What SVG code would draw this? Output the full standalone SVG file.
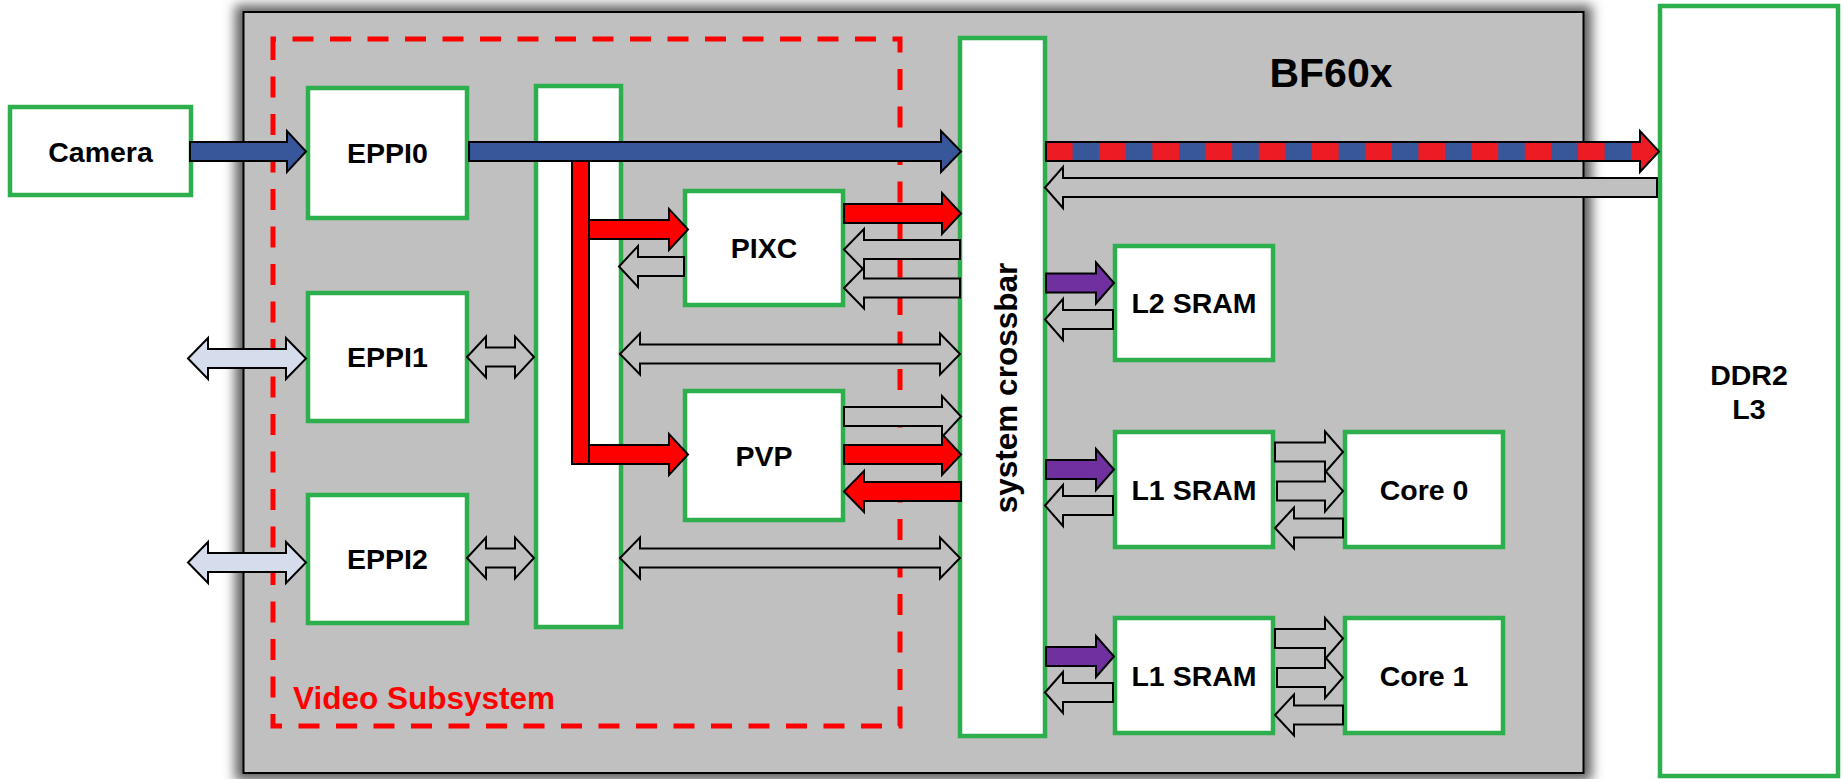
<svg xmlns="http://www.w3.org/2000/svg" width="1845" height="779" viewBox="0 0 1845 779">
<defs>
<style>
.node{fill:#FFFFFF;stroke:#2DAF4D;stroke-width:4.5}
.lbl{font-family:"Liberation Sans",Arial,sans-serif;font-weight:bold;font-size:28.5px;fill:#000;text-anchor:middle}
.ar{stroke:#000;stroke-width:2;stroke-linejoin:miter}
.blue{fill:#38569A}
.red{fill:#FF0000}
.gry{fill:#C0C0C0}
.pur{fill:#7030A0}
.lb{fill:#D5DCEC}
</style>
<filter id="sh" x="-10%" y="-10%" width="120%" height="120%" filterUnits="objectBoundingBox"><feGaussianBlur in="SourceGraphic" stdDeviation="6"/></filter>
<pattern id="stripe" patternUnits="userSpaceOnUse" x="1046" y="0" width="53.2" height="20"><rect width="26.6" height="20" fill="#EC1C24"/><rect x="26.6" width="26.6" height="20" fill="#38569A"/></pattern>
</defs>
<rect width="1845" height="779" fill="#FFFFFF"/>
<g id="bf60x">
<g filter="url(#sh)"><rect x="235" y="5" width="1357" height="776" fill="#606060"/></g>
<rect x="243.5" y="12" width="1340" height="761" fill="#C0C0C0" stroke="#000" stroke-width="2"/>
<text x="1331" y="87" class="lbl" style="font-size:41px">BF60x</text>
</g>
<g id="video-subsystem">
<path d="M273,39 V726 H900 V39 Z" fill="none" stroke="#FF0000" stroke-width="5" stroke-dasharray="21 16.5"/>
<text x="293" y="709" class="lbl" style="font-size:31.5px;fill:#FF0000;text-anchor:start">Video Subsystem</text>
</g>
<g id="camera"><rect class="node" x="10" y="107" width="181" height="88"/><text class="lbl" x="100.5" y="162">Camera</text></g>
<g id="eppi0"><rect class="node" x="308" y="88" width="159" height="130"/><text class="lbl" x="387.5" y="163">EPPI0</text></g>
<g id="eppi1"><rect class="node" x="308" y="293" width="159" height="128"/><text class="lbl" x="387.5" y="367">EPPI1</text></g>
<g id="eppi2"><rect class="node" x="308" y="495" width="159" height="128"/><text class="lbl" x="387.5" y="569">EPPI2</text></g>
<g id="bus"><rect class="node" x="536" y="86" width="85" height="541"/></g>
<g id="pixc"><rect class="node" x="685" y="191" width="158" height="114"/><text class="lbl" x="764" y="258">PIXC</text></g>
<g id="pvp"><rect class="node" x="685" y="391" width="158" height="129"/><text class="lbl" x="764" y="465.5">PVP</text></g>
<g id="crossbar"><rect class="node" x="960" y="38" width="85" height="698"/><text class="lbl" style="font-size:31.5px" transform="translate(1016.5,388) rotate(-90)" x="0" y="0">system crossbar</text></g>
<g id="l2sram"><rect class="node" x="1115" y="246" width="158" height="114"/><text class="lbl" x="1194" y="313">L2 SRAM</text></g>
<g id="l1sram0"><rect class="node" x="1115" y="432" width="158" height="115"/><text class="lbl" x="1194" y="499.5">L1 SRAM</text></g>
<g id="core0"><rect class="node" x="1345" y="432" width="158" height="115"/><text class="lbl" x="1424" y="499.5">Core 0</text></g>
<g id="l1sram1"><rect class="node" x="1115" y="618" width="158" height="115"/><text class="lbl" x="1194" y="685.5">L1 SRAM</text></g>
<g id="core1"><rect class="node" x="1345" y="618" width="158" height="115"/><text class="lbl" x="1424" y="685.5">Core 1</text></g>
<g id="ddr2"><rect class="node" x="1660" y="6" width="178" height="770"/><text class="lbl" x="1749" y="385">DDR2</text><text class="lbl" x="1749" y="419">L3</text></g>
<g id="connectors">
<polygon class="ar blue" points="190,142 287,142 287,131 306,151.5 287,172 287,161 190,161"/>
<rect class="ar red" x="572" y="159" width="17" height="305"/>
<polygon class="ar blue" points="469,142 941,142 941,131 961,151.5 941,172 941,161 469,161"/>
<polygon class="ar" fill="url(#stripe)" points="1046,142 1640,142 1640,131 1659,151.5 1640,172 1640,161 1046,161"/>
<polygon class="ar gry" points="1657,178 1063,178 1063,167 1045,187.5 1063,208 1063,197 1657,197"/>
<polygon class="ar red" points="589,220 669,220 669,209 688,229.5 669,250 669,239 589,239"/>
<polygon class="ar red" points="589,445 669,445 669,434 688,454.5 669,475 669,464 589,464"/>
<polygon class="ar gry" points="684,257 638,257 638,246 619,266.5 638,287 638,276 684,276"/>
<polygon class="ar red" points="844,204 942,204 942,193 961,213.5 942,234 942,223 844,223"/>
<polygon class="ar gry" points="960,240 864,240 864,229 844,249.5 864,270 864,259 960,259"/>
<polygon class="ar gry" points="960,278.5 864,278.5 864,267.5 844,288 864,308.5 864,297.5 960,297.5"/>
<polygon class="ar gry" points="620,354 640,333.5 640,344.5 940,344.5 940,333.5 960,354 940,374.5 940,363.5 640,363.5 640,374.5"/>
<polygon class="ar gry" points="620,558 640,537.5 640,548.5 940,548.5 940,537.5 960,558 940,578.5 940,567.5 640,567.5 640,578.5"/>
<polygon class="ar gry" points="467,357 486,336.5 486,347.5 515,347.5 515,336.5 534,357 515,377.5 515,366.5 486,366.5 486,377.5"/>
<polygon class="ar gry" points="467,558 486,537.5 486,548.5 515,548.5 515,537.5 534,558 515,578.5 515,567.5 486,567.5 486,578.5"/>
<polygon class="ar lb" points="188,358.5 208,338 208,349 286,349 286,338 306,358.5 286,379 286,368 208,368 208,379"/>
<polygon class="ar lb" points="188,562.5 208,542 208,553 286,553 286,542 306,562.5 286,583 286,572 208,572 208,583"/>
<polygon class="ar gry" points="844,407 942,407 942,396 961,416.5 942,437 942,426 844,426"/>
<polygon class="ar red" points="844,445 942,445 942,434 961,454.5 942,475 942,464 844,464"/>
<polygon class="ar red" points="961,482 864,482 864,471 844,491.5 864,512 864,501 961,501"/>
<polygon class="ar pur" points="1046,273.5 1096,273.5 1096,262.5 1114,283 1096,303.5 1096,292.5 1046,292.5"/>
<polygon class="ar pur" points="1046,460 1096,460 1096,449 1114,469.5 1096,490 1096,479 1046,479"/>
<polygon class="ar pur" points="1046,647 1096,647 1096,636 1114,656.5 1096,677 1096,666 1046,666"/>
<polygon class="ar gry" points="1113,310 1063,310 1063,299 1045,319.5 1063,340 1063,329 1113,329"/>
<polygon class="ar gry" points="1113,496 1063,496 1063,485 1045,505.5 1063,526 1063,515 1113,515"/>
<polygon class="ar gry" points="1113,683 1063,683 1063,672 1045,692.5 1063,713 1063,702 1113,702"/>
<polygon class="ar gry" points="1275,442.5 1325,442.5 1325,431.5 1343,452 1325,472.5 1325,461.5 1275,461.5"/>
<polygon class="ar gry" points="1277,481.5 1325,481.5 1325,470.5 1343,491 1325,511.5 1325,500.5 1277,500.5"/>
<polygon class="ar gry" points="1343,518.5 1294,518.5 1294,507.5 1275,528 1294,548.5 1294,537.5 1343,537.5"/>
<polygon class="ar gry" points="1275,629 1325,629 1325,618 1343,638.5 1325,659 1325,648 1275,648"/>
<polygon class="ar gry" points="1277,668 1325,668 1325,657 1343,677.5 1325,698 1325,687 1277,687"/>
<polygon class="ar gry" points="1343,705.5 1294,705.5 1294,694.5 1275,715 1294,735.5 1294,724.5 1343,724.5"/>
</g>
</svg>
